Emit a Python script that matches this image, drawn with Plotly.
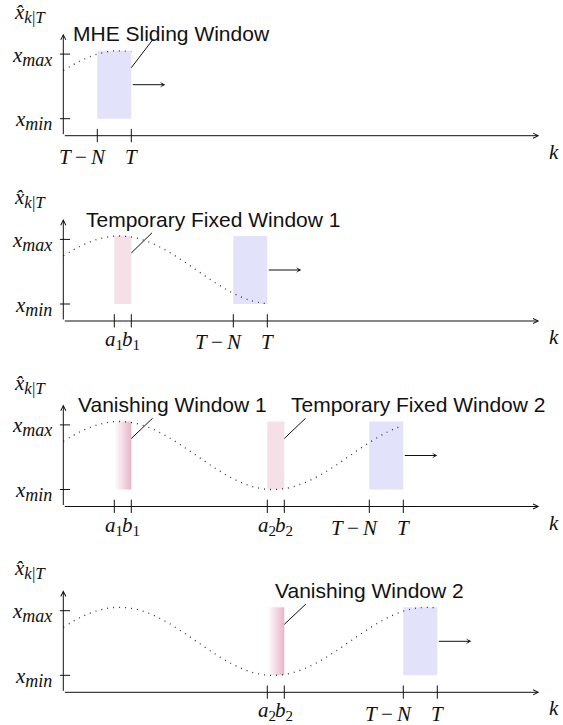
import numpy as np
import plotly.graph_objects as go

# ---------------- data ----------------
k_curve = list(range(23))
x_hat = [3.83, 4.40, 4.80, 4.99, 4.94, 4.66, 4.18, 3.56, 2.88, 2.21, 1.63, 1.21,
         1.01, 1.05, 1.32, 1.79, 2.40, 3.09, 3.76, 4.35, 4.77, 4.98, 4.96]
N = 2
T_panels = [4, 12, 20, 22]
x_min_level = 1.0
x_max_level = 4.8
win_low = 1.0
win_high = 5.0
y_axis_top = 6.0
k_axis_end = 28.0
move_level = 3.0

# fixed (pink) and vanishing (gradient) windows per panel: (a, b, sub index)
fixed_windows = [[], [(3, 4, "1")], [(12, 13, "2")], []]
vanishing_windows = [[], [], [(3, 4, "1")], [(12, 13, "2")]]
callout_texts = [
    ["MHE Sliding Window"],
    ["Temporary Fixed Window 1"],
    ["Vanishing Window 1", "Temporary Fixed Window 2"],
    ["Vanishing Window 2"],
]
# ---------------- styling / placement ----------------
callout_anchor_k = [[4], [4], [4, 13], [13]]          # window right edge the leader starts at
callout_center_k = [[6.34], [8.8], [6.4, 20.86], [18.04]]
callout_leader_top = [[5.67], [5.19], [5.19, 5.19], [5.19]]
callout_leader_dx = [[1.28], [1.22], [1.25, 1.25], [1.27]]

W, H = 563, 725
PX = 17.0                     # pixels per unit (both axes)
X0 = 63.3                     # pixel position of k = 0
axis_px = [135.7, 321.0, 506.5, 692.3]
ylo, yhi = -1.9, 7.9
xr = [-X0 / PX, (W - X0) / PX]

BLUE = "#e2e2fb"
PINK = "#f6e0e8"
VAN_END = "#e8b6c9"
INK = "#111111"
SERIF = "Liberation Serif"
SANS = "Liberation Sans"


def sub(s, px=17):
    return "<sub><span style='font-size:%dpx'>%s</span></sub>" % (px, s)


fig = go.Figure()
layout = dict(width=W, height=H, margin=dict(l=0, r=0, t=0, b=0),
              paper_bgcolor="white", plot_bgcolor="rgba(0,0,0,0)",
              showlegend=False)
shapes = []
annotations = []

for i in range(4):
    sfx = "" if i == 0 else str(i + 1)
    xref, yref = "x" + sfx, "y" + sfx
    layout["xaxis" + sfx] = dict(domain=[0, 1], range=xr, visible=False,
                                 fixedrange=True, anchor=yref)
    layout["yaxis" + sfx] = dict(domain=[max(0, 1 - (axis_px[i] - PX * ylo) / H),
                                         min(1, 1 - (axis_px[i] - PX * yhi) / H)],
                                 range=[ylo, yhi], visible=False,
                                 fixedrange=True, anchor=xref)
    T = T_panels[i]

    # sliding window (blue)
    shapes.append(dict(type="rect", xref=xref, yref=yref, x0=T - N, x1=T,
                       y0=win_low, y1=win_high, fillcolor=BLUE,
                       line=dict(width=0), layer="below"))
    # temporary fixed windows (pink)
    for (a, b, s) in fixed_windows[i]:
        shapes.append(dict(type="rect", xref=xref, yref=yref, x0=a, x1=b,
                           y0=win_low, y1=win_high, fillcolor=PINK,
                           line=dict(width=0), layer="below"))
    # vanishing windows (gradient)
    for (a, b, s) in vanishing_windows[i]:
        n = 40
        xe = np.linspace(a, b, n + 1)
        z = [list(np.linspace(0, 1, n))]
        fig.add_trace(go.Heatmap(x=xe, y=[win_low, win_high], z=z, zmin=0, zmax=1,
                                 colorscale=[[0, "#ffffff"], [1, VAN_END]],
                                 showscale=False, hoverinfo="skip",
                                 xaxis=xref, yaxis=yref))

    # estimate curve (dotted) up to T
    fig.add_trace(go.Scatter(x=k_curve[:T + 1], y=x_hat[:T + 1], mode="lines",
                             line=dict(color="#333333", width=1.3, dash="1px,5px",
                                       shape="spline"),
                             hoverinfo="skip", xaxis=xref, yaxis=yref))

    # axes with arrows
    annotations.append(dict(xref=xref, yref=yref, axref=xref, ayref=yref,
                            x=k_axis_end, y=0, ax=0, ay=0, text="", showarrow=True,
                            arrowhead=5, arrowsize=1, arrowwidth=1, arrowcolor=INK,
                            standoff=0))
    annotations.append(dict(xref=xref, yref=yref, axref=xref, ayref=yref,
                            x=0, y=y_axis_top, ax=0, ay=0, text="", showarrow=True,
                            arrowhead=5, arrowsize=1, arrowwidth=1, arrowcolor=INK,
                            standoff=0))
    # y ticks + labels
    for lvl, name in [(x_max_level, "max"), (x_min_level, "min")]:
        shapes.append(dict(type="line", xref=xref, yref=yref, x0=-0.2, x1=0.4,
                           y0=lvl, y1=lvl, line=dict(color=INK, width=1)))
        annotations.append(dict(xref=xref, yref=yref, x=-0.55, y=lvl - 0.12,
                                xanchor="right", yanchor="middle", showarrow=False,
                                text="<i>x</i>" + sub("<i>" + name + "</i>", 18),
                                font=dict(family=SERIF, size=21, color=INK)))
    annotations.append(dict(xref=xref, yref=yref, x=-1.95, y=7.2,
                            xanchor="center", yanchor="middle", showarrow=False,
                            text="<i>x\u0302</i>" + sub("<i>k</i>|<i>T</i>", 17),
                            font=dict(family=SERIF, size=21, color=INK)))
    annotations.append(dict(xref=xref, yref=yref, x=28.85, y=-0.95,
                            xanchor="center", yanchor="middle", showarrow=False,
                            text="<i>k</i>",
                            font=dict(family=SERIF, size=21, color=INK)))

    # x ticks and labels
    ticks = []
    for (a, b, s) in vanishing_windows[i] + fixed_windows[i]:
        ticks.append((a, "<i>a</i>" + sub(s, 15), 0, -1.12))
        ticks.append((b, "<i>b</i>" + sub(s, 15), 0, -1.12))
    ticks.append((T - N, "<i>T</i>\u2009\u2212\u2009<i>N</i>", -14.5, -1.25))
    ticks.append((T, "<i>T</i>", 0, -1.25))
    for (kv, lab, sh, ly) in ticks:
        shapes.append(dict(type="line", xref=xref, yref=yref, x0=kv, x1=kv,
                           y0=-0.38, y1=0.4, line=dict(color=INK, width=1)))
        annotations.append(dict(xref=xref, yref=yref, x=kv, y=ly, xshift=sh,
                                xanchor="center", yanchor="middle", showarrow=False,
                                text=lab, font=dict(family=SERIF, size=21, color=INK)))

    # moving arrow
    annotations.append(dict(xref=xref, yref=yref, axref=xref, ayref=yref,
                            x=T + N, y=move_level, ax=T, ay=move_level, text="",
                            showarrow=True, arrowhead=3, arrowsize=0.9, arrowwidth=1,
                            arrowcolor=INK, standoff=0))

    # callouts
    for j, txt in enumerate(callout_texts[i]):
        k0 = callout_anchor_k[i][j]
        shapes.append(dict(type="line", xref=xref, yref=yref, x0=k0, y0=4.0,
                           x1=k0 + callout_leader_dx[i][j], y1=callout_leader_top[i][j],
                           line=dict(color=INK, width=1)))
        annotations.append(dict(xref=xref, yref=yref, x=callout_center_k[i][j], y=6.0,
                                xanchor="center", yanchor="middle", showarrow=False,
                                text=txt, font=dict(family=SANS, size=21, color=INK)))

layout["shapes"] = shapes
layout["annotations"] = annotations
fig.update_layout(**layout)
fig.write_html("out.html",
               config={"displayModeBar": False, "staticPlot": True},
               post_script="document.body.style.margin='0';"
                           "document.body.style.overflow='hidden';")
